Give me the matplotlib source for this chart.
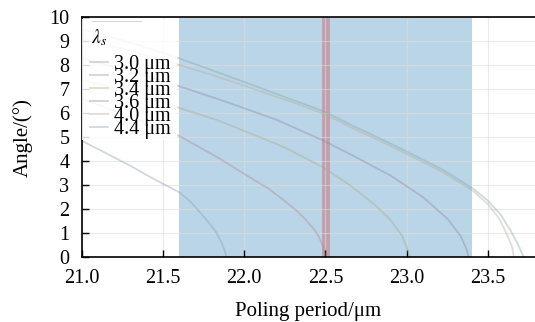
import matplotlib
matplotlib.use("Agg")
import matplotlib.pyplot as plt

plt.rcParams['font.family'] = ['Liberation Serif', 'DejaVu Serif']
plt.rcParams['mathtext.fontset'] = 'stix'

# values (poling period in um, angle in degrees)
labels = ['3.0 μm', '3.2 μm', '3.4 μm', '3.6 μm', '4.0 μm', '4.4 μm']
colors = ['#8a9cb4', '#a88a90', '#a8a884', '#8c88a0', '#b4ae96', '#7ea8a4']

period_30 = [21.0, 21.1, 21.2, 21.3, 21.42, 21.5, 21.6, 21.67, 21.73, 21.78, 21.83, 21.86, 21.88, 21.89]
angle_30 = [4.85, 4.5, 4.15, 3.8, 3.34, 3.05, 2.7, 2.3, 1.84, 1.45, 1.0, 0.6, 0.25, 0.0]

period_32 = [21.0, 21.2, 21.4, 21.6, 21.83, 22.03, 22.15, 22.24, 22.32, 22.38, 22.43, 22.46, 22.49, 22.5]
angle_32 = [6.6, 6.1, 5.6, 5.05, 4.18, 3.34, 2.85, 2.38, 1.95, 1.54, 1.15, 0.84, 0.35, 0.0]

period_34 = [21.0, 21.3, 21.54, 21.83, 22.03, 22.24, 22.48, 22.65, 22.8, 22.9, 22.97, 23.0, 23.02]
angle_34 = [7.4, 6.85, 6.35, 5.72, 5.18, 4.6, 3.76, 3.0, 2.2, 1.55, 0.9, 0.4, 0.0]

period_36 = [21.0, 21.3, 21.54, 21.9, 22.2, 22.48, 22.65, 22.9, 23.1, 23.25, 23.33, 23.37, 23.38]
angle_36 = [8.3, 7.75, 7.26, 6.45, 5.72, 4.88, 4.3, 3.4, 2.5, 1.6, 0.9, 0.3, 0.0]

period_40 = [21.0, 21.3, 21.54, 21.8, 22.0, 22.3, 22.5, 22.66, 22.85, 23.0, 23.22, 23.41, 23.5, 23.57, 23.62, 23.65, 23.66]
angle_40 = [9.1, 8.6, 8.14, 7.6, 7.15, 6.45, 5.95, 5.4, 4.8, 4.3, 3.55, 2.75, 2.2, 1.6, 0.9, 0.4, 0.0]

period_44 = [21.0, 21.3, 21.54, 21.8, 22.0, 22.3, 22.5, 22.66, 22.85, 23.0, 23.22, 23.41, 23.5, 23.58, 23.64, 23.68, 23.71, 23.72]
angle_44 = [9.5, 8.95, 8.43, 7.8, 7.3, 6.55, 6.05, 5.5, 4.9, 4.4, 3.65, 2.85, 2.35, 1.75, 1.1, 0.6, 0.15, 0.0]

periods = [period_30, period_32, period_34, period_36, period_40, period_44]
angles = [angle_30, angle_32, angle_34, angle_36, angle_40, angle_44]

band = (21.6, 23.4)
marker_band = (22.48, 22.53)

fig = plt.figure(figsize=(5.35, 3.22), dpi=100)
ax = fig.add_axes([0.153, 0.202, 0.847, 0.744])

ax.axvspan(band[0], band[1], color='C0', alpha=0.3, lw=0, zorder=1)
ax.axvspan(marker_band[0], marker_band[1], color='C3', alpha=0.3, lw=0, zorder=1)

for p, a, c, l in zip(periods, angles, colors, labels):
    ax.plot(p, a, color=c, lw=1.3, alpha=0.4, label=l, zorder=2)

ax.set_xlim(21.0, 23.79)
ax.set_ylim(0, 10)
ax.set_xticks([21.0, 21.5, 22.0, 22.5, 23.0, 23.5])
ax.set_xticklabels(['21.0', '21.5', '22.0', '22.5', '23.0', '23.5'])
ax.set_yticks(range(0, 11))
ax.grid(True, color='#dcdcdc', lw=0.8, alpha=0.6, zorder=0)
ax.tick_params(direction='in', labelsize=14.5, length=5, width=1)
ax.tick_params(axis='x', pad=9)
ax.tick_params(axis='y', pad=9)
for s in ['left', 'bottom', 'top']:
    ax.spines[s].set_linewidth(1.2)
ax.spines['right'].set_visible(False)

ax.set_xlabel('Poling period/μm', fontsize=15, labelpad=10)
ax.set_ylabel('Angle/(°)', fontsize=15, labelpad=12)

# white backing behind the legend block
ax.add_patch(plt.Rectangle((0.0, 0.49), 0.21, 0.505, transform=ax.transAxes,
                           facecolor='white', alpha=0.85, lw=0, zorder=4))
ax.plot([0.022, 0.13], [0.985, 0.985], transform=ax.transAxes,
        color='#d4d4d4', lw=0.8, zorder=5)
ax.text(0.02, 0.915, r'$\lambda_s$', transform=ax.transAxes, fontsize=14,
        ha='left', va='center', zorder=6)
leg = ax.legend(loc='upper left', bbox_to_anchor=(0.018, 0.845),
                fontsize=14.5, labelspacing=-0.3,
                handlelength=0.9, handletextpad=0.3, borderpad=0.0,
                borderaxespad=0, frameon=False)
leg.set_zorder(6)

fig.savefig('out.png', dpi=100)
